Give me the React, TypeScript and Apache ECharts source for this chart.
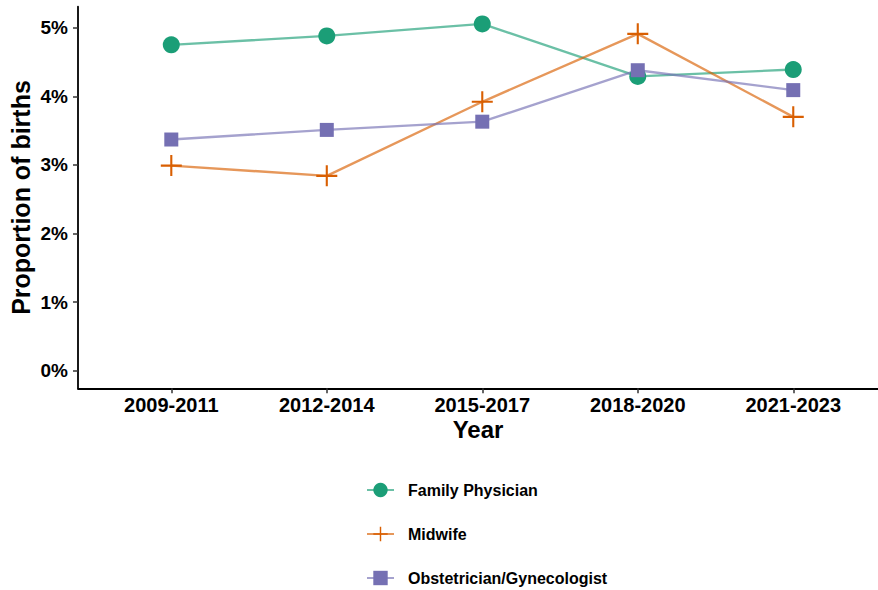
import React, { useEffect, useRef } from "react";
import * as echarts from "echarts";

const categories = ["2009-2011", "2012-2014", "2015-2017", "2018-2020", "2021-2023"];
const familyPhysician = [4.75, 4.88, 5.055, 4.29, 4.39];
const midwife = [2.99, 2.84, 3.92, 4.91, 3.70];
const obGyn = [3.37, 3.51, 3.63, 4.38, 4.09];
const yTicks = [0, 1, 2, 3, 4, 5];

const seriesNames = ["Family Physician", "Midwife", "Obstetrician/Gynecologist"];
const colors = ["#1B9E77", "#D95F02", "#7570B3"];

const PLUS = "path://M9,0h2v20h-2zM0,9h20v2h-20z";

export default function App() {
  const ref = useRef<HTMLDivElement>(null);
  useEffect(() => {
    if (!ref.current) return;
    const chart = echarts.init(ref.current, undefined, { renderer: "svg" });
    const toPairs = (arr: number[]) => arr.map((v, i) => [i, v]);
    const font = "'Liberation Sans', Arial, sans-serif";
    const mk = (name: string, data: number[], color: string, symbol: string, size: number) => ({
      name,
      type: "line",
      data: toPairs(data),
      symbol,
      symbolSize: size,
      itemStyle: { color, opacity: 1 },
      lineStyle: { color, width: 2.4, opacity: 0.65 },
      emphasis: { disabled: true },
    });
    chart.setOption({
      animation: false,
      grid: { left: 78, top: 6.7, width: 800, height: 381.6, outerBoundsMode: "none", containLabel: false },
      xAxis: {
        type: "value",
        min: -0.6,
        max: 4.545,
        splitLine: { show: false },
        axisLine: { show: true, onZero: false, lineStyle: { color: "#000", width: 1.8 } },
        axisTick: { show: true, length: 5, customValues: categories.map((_, i) => i), lineStyle: { color: "#333", width: 1.5 } },
        axisLabel: {
          customValues: categories.map((_, i) => i),
          formatter: (v: number) => categories[Math.round(v)] ?? "",
          color: "#000",
          fontWeight: "bold",
          fontSize: 20,
          fontFamily: font,
          margin: 7,
        },
        name: "Year",
        nameLocation: "middle",
        nameMoveOverlap: false,
        nameGap: 29,
        nameTextStyle: { color: "#000", fontWeight: "bold", fontSize: 24, fontFamily: font },
      },
      yAxis: {
        type: "value",
        min: -0.2566,
        max: 5.306,
        splitLine: { show: false },
        axisLine: { show: true, onZero: false, lineStyle: { color: "#000", width: 1.8 } },
        axisTick: { show: true, length: 5, customValues: yTicks, lineStyle: { color: "#333", width: 1.5 } },
        axisLabel: {
          customValues: yTicks,
          formatter: (v: number) => `${Math.round(v)}%`,
          color: "#000",
          fontWeight: "bold",
          fontSize: 19,
          fontFamily: font,
          margin: 10,
        },
        name: "Proportion of births",
        nameLocation: "middle",
        nameMoveOverlap: false,
        nameGap: 45,
        nameTextStyle: { color: "#000", fontWeight: "bold", fontSize: 25, fontFamily: font },
      },
      legend: {
        orient: "vertical",
        left: 366,
        top: 482,
        height: 120,
        padding: 0,
        itemWidth: 27,
        itemHeight: 18,
        itemGap: 28,
        data: seriesNames,
        textStyle: { color: "#000", fontWeight: "bold", fontSize: 16, fontFamily: font, padding: [0, 0, 0, 9] },
      },
      series: [
        mk(seriesNames[0], familyPhysician, colors[0], "circle", 17),
        mk(seriesNames[1], midwife, colors[1], PLUS, 21),
        mk(seriesNames[2], obGyn, colors[2], "rect", 14),
      ],
    });
    return () => chart.dispose();
  }, []);
  return <div ref={ref} style={{ position: "fixed", left: 0, top: 0, width: 878, height: 590, background: "#fff" }} />;
}
